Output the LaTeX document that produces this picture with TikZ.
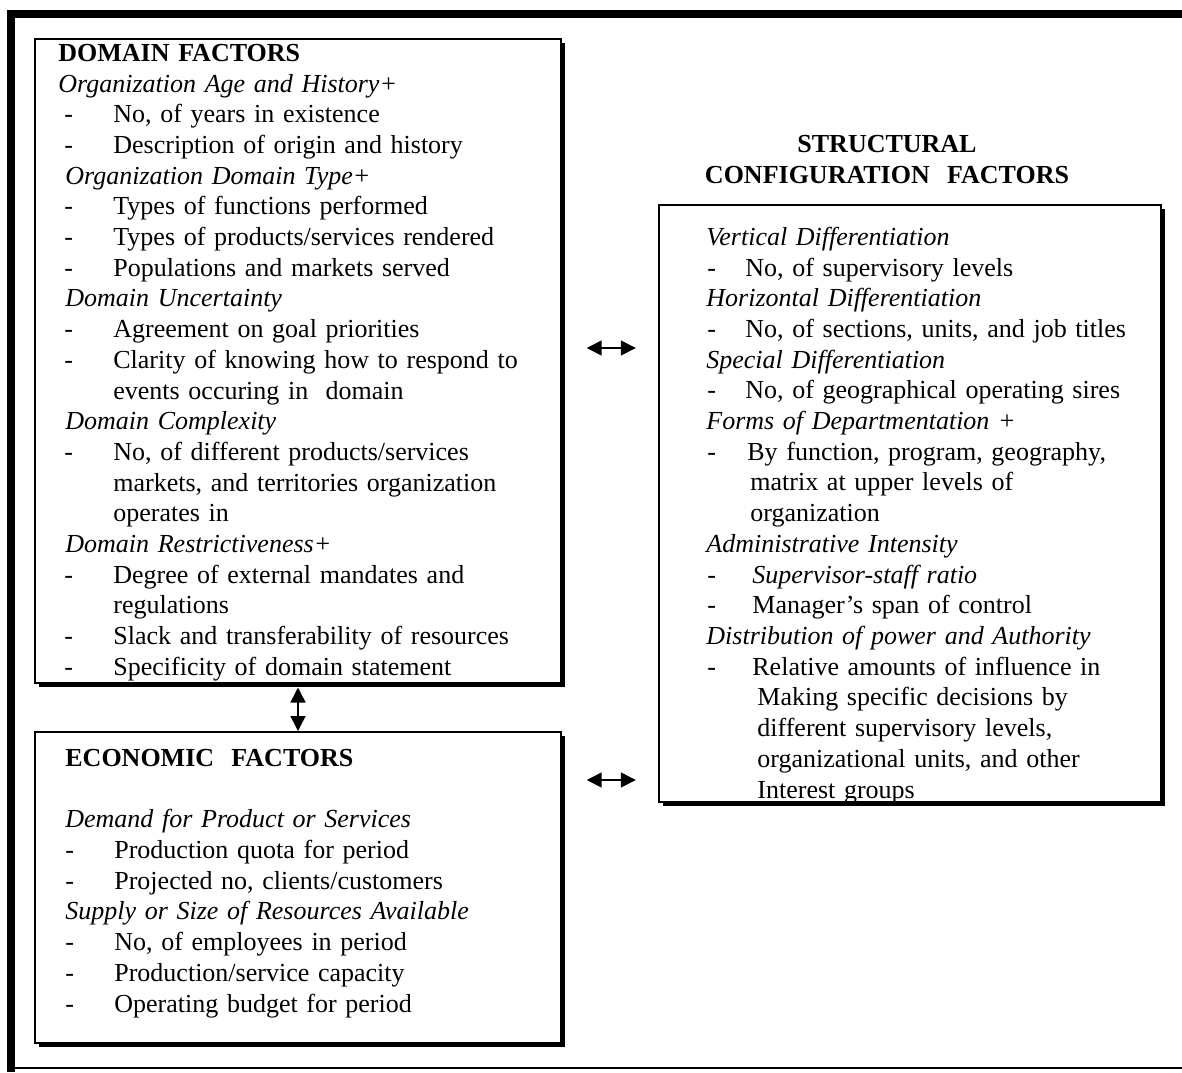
\documentclass[tikz,border=0pt]{standalone}
\usepackage{fontspec}
\setmainfont{Liberation Serif}
\usetikzlibrary{arrows.meta}
\usetikzlibrary{shadows}

\newlength\dashind
\newlength\itemind
\newlength\headind
\newcommand{\factorhead}[1]{\par\noindent\hspace*{\headind}\textit{#1}}
\newcommand{\factoritem}[2][0pt]{\par\noindent\hangindent=\dimexpr\itemind+#1\relax\hangafter=1%
\makebox[\dimexpr\itemind+#1\relax][l]{\hspace*{\dashind}-}#2}

\begin{document}
\begin{tikzpicture}[x=0.5pt, y=-0.5pt,
factorbox/.style={rectangle, draw=black, line width=0.75pt, fill=white, anchor=north west, inner sep=0pt,
  drop shadow={shadow xshift=2pt, shadow yshift=-2pt, fill=black, opacity=1}},
factortext/.style={anchor=north west, inner sep=0pt, align=left, font={\fontsize{13}{15.35}\selectfont}},
biarrow/.style={{Triangle[length=7.5pt,width=7.5pt]}-{Triangle[length=7.5pt,width=7.5pt]}, line width=0.75pt}]
\useasboundingbox (0,0) rectangle (1182,1072);

% outer frame
\draw[line width=4pt] (7,14) -- (1182,14);
\draw[line width=3.8pt] (11,10) -- (11,1072);
\draw[line width=1.2pt] (11,1068) -- (1182,1068);

% boxes
\node[factorbox, minimum width=263pt, minimum height=322pt] (domain) at (34,38) {};
\node[factorbox, minimum width=263pt, minimum height=155.5pt] (econ) at (34,731) {};
\node[factorbox, minimum width=251pt, minimum height=298.5pt] (struct) at (658,204) {};

% texts
\node[factortext, text width=255pt] (domaintext) at (58,39.5) {%
\setlength\dashind{3pt}\setlength\itemind{27.5pt}\setlength\headind{3.5pt}%
\noindent\strut\textbf{DOMAIN FACTORS}
\par\noindent\textit{Organization Age and History+}
\factoritem{No, of years in existence}
\factoritem{Description of origin and history}
\factorhead{Organization Domain Type+}
\factoritem{Types of functions performed}
\factoritem{Types of products/services rendered}
\factoritem{Populations and markets served}
\factorhead{Domain Uncertainty}
\factoritem{Agreement on goal priorities}
\factoritem{Clarity of knowing how to respond to\newline events occuring in\ \ domain}
\factorhead{Domain Complexity}
\factoritem{No, of different products/services\newline markets, and territories organization\newline operates in}
\factorhead{Domain Restrictiveness+}
\factoritem{Degree of external mandates and\newline regulations}
\factoritem{Slack and transferability of resources}
\factoritem{Specificity of domain statement}\par};

\node[factortext, text width=245pt] (econtext) at (65,744.5) {%
\setlength\dashind{0pt}\setlength\itemind{24.5pt}\setlength\headind{0pt}%
\noindent\strut\textbf{ECONOMIC\ \ FACTORS}
\par\noindent\strut
\factorhead{Demand for Product or Services}
\factoritem{Production quota for period}
\factoritem{Projected no, clients/customers}
\factorhead{Supply or Size of Resources Available}
\factoritem{No, of employees in period}
\factoritem{Production/service capacity}
\factoritem{Operating budget for period}\par};

\node[factortext, anchor=north, text width=210pt, align=center] (structtitle) at (887,130.5) {%
\strut\textbf{STRUCTURAL}\\\textbf{CONFIGURATION\ \ FACTORS}};

\node[factortext, text width=225pt] (structtext) at (706,223.5) {%
\setlength\dashind{0.5pt}\setlength\itemind{19.5pt}\setlength\headind{0pt}%
\noindent\strut\textit{Vertical Differentiation}
\factoritem{No, of supervisory levels}
\factorhead{Horizontal Differentiation}
\factoritem{No, of sections, units, and job titles}
\factorhead{Special Differentiation}
\factoritem{No, of geographical operating sires}
\factorhead{Forms of Departmentation +}
\factoritem[1pt]{By function, program, geography,\newline\hspace*{1.5pt}matrix at upper levels of\newline\hspace*{1.5pt}organization}
\factorhead{Administrative Intensity}
\factoritem[3.5pt]{\textit{Supervisor-staff ratio}}
\factoritem[3.5pt]{Manager’s span of control}
\factorhead{Distribution of power and Authority}
\factoritem[3.5pt]{Relative amounts of influence in\newline\hspace*{2.5pt}Making specific decisions by\newline\hspace*{2.5pt}different supervisory levels,\newline\hspace*{2.5pt}organizational units, and other\newline\hspace*{2.5pt}Interest groups}\par};

% links
\coordinate (linkup) at (0,348);
\coordinate (linkdown) at (0,780);
\coordinate (linkmid) at (298,0);
\draw[biarrow, shorten <=12.6pt, shorten >=11.1pt] (domain.east |- linkup) -- (struct.west |- linkup);
\draw[biarrow, shorten <=12.6pt, shorten >=11.1pt] (econ.east |- linkdown) -- (struct.west |- linkdown);
\draw[biarrow, shorten <=2pt] (domain.south -| linkmid) -- (econ.north -| linkmid);
\end{tikzpicture}
\end{document}
